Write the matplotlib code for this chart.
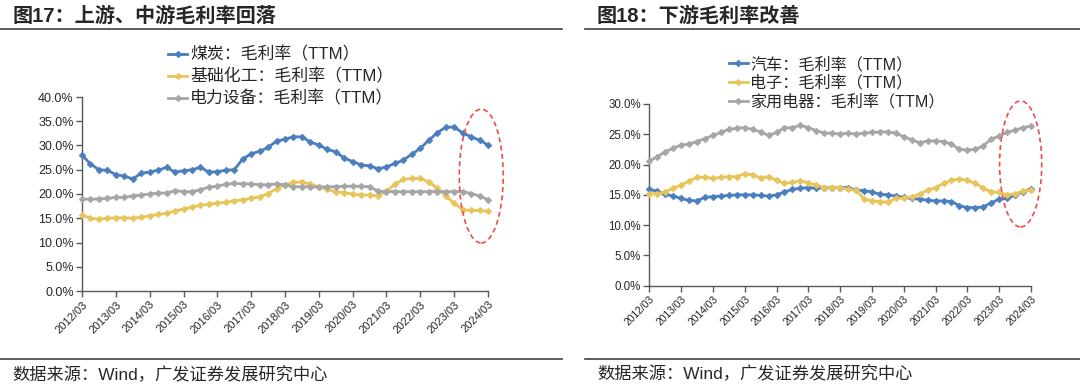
import numpy as np
import matplotlib
matplotlib.use("Agg")
import matplotlib.pyplot as plt
from matplotlib.patches import Ellipse
from matplotlib.lines import Line2D

plt.rcParams['font.family'] = ['Liberation Sans', 'Noto Sans CJK SC', 'DejaVu Sans']

# ---------------- data ----------------
year_ticks = ['2012/03', '2013/03', '2014/03', '2015/03', '2016/03', '2017/03', '2018/03',
              '2019/03', '2020/03', '2021/03', '2022/03', '2023/03', '2024/03']

# Figure 17 (quarterly, 2012/03 - 2024/03), %
coal = [28.0, 26.2, 25.0, 24.9, 24.0, 23.7, 23.1, 24.3, 24.5, 24.9, 25.5, 24.5, 24.8,
        25.0, 25.5, 24.5, 24.6, 24.9, 25.0, 27.2, 28.3, 28.8, 29.6, 30.9, 31.3, 31.8,
        31.8, 30.7, 30.1, 29.2, 28.7, 27.4, 26.7, 26.0, 25.8, 25.2, 25.6, 26.3, 27.0,
        28.2, 29.4, 31.1, 32.6, 33.8, 33.8, 32.6, 31.8, 31.1, 30.1]
chem = [15.7, 15.0, 14.8, 15.0, 15.1, 15.1, 15.0, 15.2, 15.5, 15.8, 16.0, 16.5, 16.9,
        17.3, 17.7, 17.9, 18.1, 18.3, 18.6, 18.8, 19.1, 19.4, 20.1, 21.1, 21.9, 22.4,
        22.5, 22.0, 21.5, 21.0, 20.4, 20.3, 20.0, 19.8, 19.8, 19.6, 20.6, 22.0, 23.0,
        23.2, 23.2, 22.5, 21.2, 19.6, 18.1, 16.8, 16.6, 16.6, 16.4]
power = [19.0, 18.9, 19.0, 19.1, 19.3, 19.3, 19.6, 19.8, 20.0, 20.2, 20.2, 20.7, 20.5,
         20.5, 20.9, 21.4, 21.6, 22.0, 22.2, 22.1, 22.1, 21.9, 21.9, 22.1, 21.9, 21.5,
         21.5, 21.5, 21.4, 21.5, 21.5, 21.6, 21.6, 21.6, 21.5, 20.6, 20.5, 20.5, 20.5,
         20.5, 20.5, 20.5, 20.5, 20.5, 20.5, 20.5, 20.1, 19.6, 18.8]

# Figure 18, %
auto = [15.9, 15.6, 15.1, 14.8, 14.4, 14.1, 14.0, 14.6, 14.7, 14.8, 14.9, 15.0, 15.0,
        15.0, 14.9, 14.8, 15.0, 15.5, 15.9, 16.1, 16.2, 16.1, 16.2, 16.2, 16.2, 16.2,
        15.8, 15.7, 15.5, 15.1, 15.0, 14.8, 14.6, 14.4, 14.3, 14.1, 14.0, 14.0, 13.9,
        13.2, 12.9, 12.9, 13.0, 13.7, 14.3, 14.4, 15.0, 15.5, 16.0]
elec = [15.2, 15.2, 15.5, 16.1, 16.6, 17.3, 17.9, 17.9, 17.7, 17.9, 18.0, 18.0, 18.5,
        18.3, 17.8, 18.0, 17.4, 16.9, 17.1, 17.3, 17.0, 16.6, 16.2, 16.2, 16.2, 15.9,
        15.8, 14.3, 14.0, 13.9, 13.8, 14.4, 14.5, 14.7, 15.1, 15.8, 16.2, 16.9, 17.4,
        17.6, 17.4, 16.9, 16.1, 15.5, 15.4, 15.0, 15.2, 15.6, 15.8]
appl = [20.6, 21.3, 22.1, 22.7, 23.2, 23.4, 23.8, 24.3, 24.8, 25.3, 25.8, 26.0, 26.1,
        25.8, 25.4, 24.8, 25.3, 26.1, 26.1, 26.5, 26.1, 25.6, 25.2, 25.2, 25.0, 25.2,
        25.0, 25.2, 25.3, 25.4, 25.4, 25.2, 24.6, 24.1, 23.6, 23.9, 23.9, 23.8, 23.4,
        22.5, 22.4, 22.5, 23.1, 24.2, 24.7, 25.3, 25.7, 26.1, 26.4]

left_labels = ['煤炭：毛利率（TTM）', '基础化工：毛利率（TTM）', '电力设备：毛利率（TTM）']
right_labels = ['汽车：毛利率（TTM）', '电子：毛利率（TTM）', '家用电器：毛利率（TTM）']

BLUE = '#4A7EBF'
YELLOW = '#E8C55A'
GRAY = '#A6A6A6'
RED = '#F04A4A'
AXC = '#595959'
TXT = '#262626'
FAM = ['Liberation Sans', 'Noto Sans CJK SC', 'DejaVu Sans']

W, H = 1080, 387
fig = plt.figure(figsize=(W / 100, H / 100), dpi=100)


def fx(px):
    return px / W


def fy(py):
    return 1 - py / H


def style_axes(ax, ymax, ystep, ylab_size, xlab_size):
    n = len(coal)
    ax.set_xlim(0, n - 1)
    ax.set_ylim(0, ymax)
    ax.set_xticks(np.arange(0, n, 4))
    ax.set_xticklabels(year_ticks, rotation=45, ha='right', va='top',
                       rotation_mode='anchor', fontsize=xlab_size, color=TXT)
    yt = np.arange(0, ymax + 0.01, ystep)
    ax.set_yticks(yt)
    ax.set_yticklabels([f'{v:.1f}%' for v in yt], fontsize=ylab_size, color=TXT)
    for s in ['top', 'right']:
        ax.spines[s].set_visible(False)
    for s in ['left', 'bottom']:
        ax.spines[s].set_color(AXC)
        ax.spines[s].set_linewidth(1.0)
    ax.tick_params(axis='both', direction='out', length=4, width=1.0, color=AXC, pad=2)
    ax.set_facecolor('none')


def draw_series(ax, series, colors):
    x = np.arange(len(series[0]))
    lines = []
    for s, c in zip(series, colors):
        ln, = ax.plot(x, s, color=c, lw=2.0, marker='D', ms=3.4, mec=c, mfc=c,
                      mew=0.5, clip_on=False, zorder=3)
        lines.append(ln)
    return lines


# ---------------- left chart ----------------
ax1 = fig.add_axes([fx(82), fy(291), fx(488 - 82), (291 - 97) / H])
l1 = draw_series(ax1, [coal, chem, power], [BLUE, YELLOW, GRAY])
style_axes(ax1, 40, 5, 9, 8.0)
ax1.add_patch(Ellipse((47.2, 23.7), 5.2, 27.6, fill=False, ec=RED, lw=1.2,
                      ls=(0, (3, 2)), clip_on=False, zorder=4))
fig.legend(l1, left_labels, loc='upper left', bbox_to_anchor=(fx(168), fy(46.5)),
           bbox_transform=fig.transFigure, frameon=False, prop={'family': FAM, 'size': 12.2},
           handlelength=1.15, handletextpad=0.15, labelspacing=0.33, borderpad=0,
           borderaxespad=0, labelcolor=TXT)

# ---------------- right chart ----------------
ax2 = fig.add_axes([fx(649.3), fy(285.7), fx(1031 - 649.3), (285.7 - 104) / H])
l2 = draw_series(ax2, [auto, elec, appl], [BLUE, YELLOW, GRAY])
style_axes(ax2, 30, 5, 8.3, 7.4)
ax2.add_patch(Ellipse((46.7, 20.1), 5.3, 20.8, fill=False, ec=RED, lw=1.2,
                      ls=(0, (3, 2)), clip_on=False, zorder=4))
fig.legend(l2, right_labels, loc='upper left', bbox_to_anchor=(fx(729), fy(56.5)),
           bbox_transform=fig.transFigure, frameon=False, prop={'family': FAM, 'size': 11.6},
           handlelength=1.15, handletextpad=0.15, labelspacing=0.2, borderpad=0,
           borderaxespad=0, labelcolor=TXT)

# ---------------- titles, rules, sources ----------------
fig.text(fx(13), fy(16), '图17：上游、中游毛利率回落', family=FAM, fontsize=14.5,
         fontweight='bold', color=TXT, va='center', ha='left')
fig.text(fx(597), fy(16), '图18：下游毛利率改善', family=FAM, fontsize=14.5,
         fontweight='bold', color=TXT, va='center', ha='left')

for y in (28.5, 358.5):
    fig.add_artist(Line2D([0, fx(562)], [fy(y), fy(y)], color='#404040', lw=1.2,
                          transform=fig.transFigure))
    fig.add_artist(Line2D([fx(585), 1], [fy(y), fy(y)], color='#404040', lw=1.2,
                          transform=fig.transFigure))

src = '数据来源：Wind，广发证券发展研究中心'
fig.text(fx(12), fy(375), src, family=FAM, fontsize=12.4, color=TXT, va='center', ha='left')
fig.text(fx(597), fy(374), src, family=FAM, fontsize=12.4, color=TXT, va='center', ha='left')

fig.savefig('out.png', dpi=100)
